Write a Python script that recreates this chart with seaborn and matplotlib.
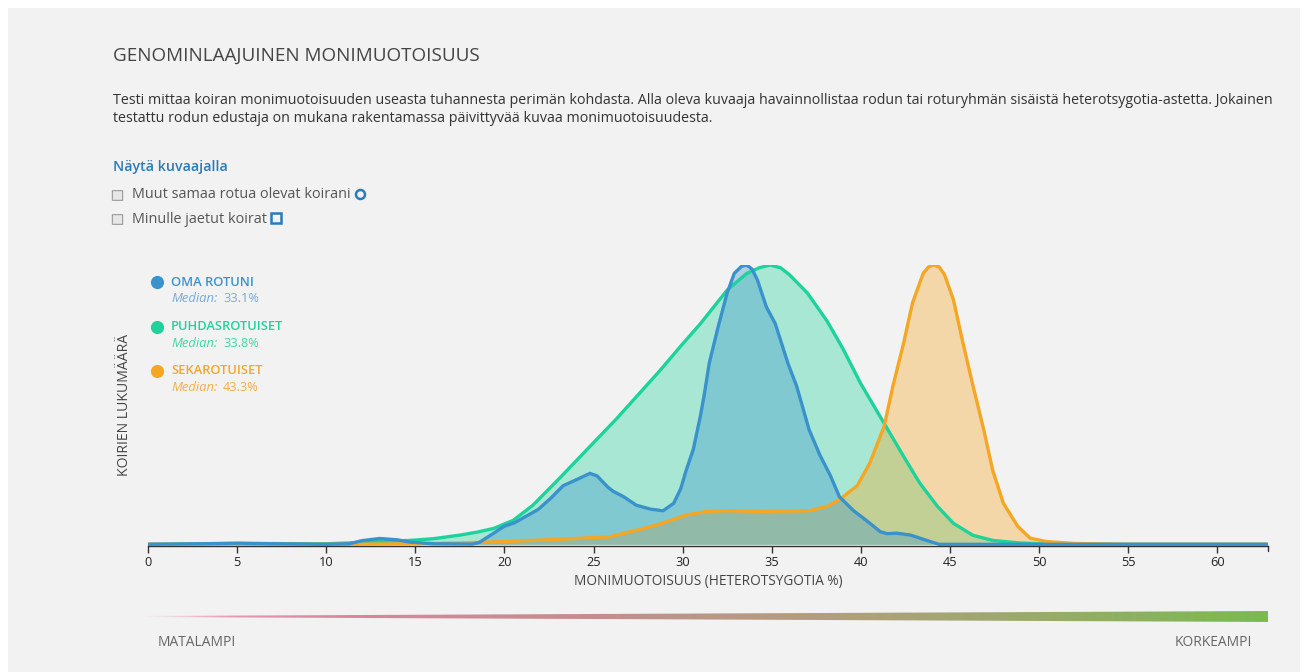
import numpy as np
import matplotlib
matplotlib.use('Agg')
import matplotlib.pyplot as plt
import seaborn as sns
from matplotlib.patches import Rectangle, FancyBboxPatch, Polygon
from matplotlib.lines import Line2D
from matplotlib.colors import LinearSegmentedColormap

# data (curve heights relative to each peak)
oma_x = [0, 3, 5, 7, 10, 11.3, 12, 13, 14, 14.7, 16, 18.2, 18.6, 19.4, 20.0, 20.6, 21.2, 21.9,
         22.6, 23.3, 24.1, 24.8, 25.2, 25.8, 26.1, 26.7, 27.4, 28.2, 28.9, 29.5, 29.9, 30.2,
         30.6, 31.0, 31.2, 31.5, 32.0, 32.5, 32.9, 33.3, 33.6, 33.9, 34.2, 34.7, 35.2, 35.9,
         36.4, 37.1, 37.7, 38.3, 38.8, 39.6, 40.3, 41.1, 41.5, 42.0, 42.8, 43.7, 44.4, 50, 55, 62.8]
oma_y = [0, 0.002, 0.004, 0.002, 0, 0.002, 0.013, 0.021, 0.016, 0.008, 0.002, 0.001, 0.007,
         0.04, 0.065, 0.078, 0.10, 0.125, 0.165, 0.21, 0.233, 0.254, 0.245, 0.205, 0.19, 0.17,
         0.14, 0.126, 0.12, 0.147, 0.2, 0.265, 0.34, 0.46, 0.53, 0.65, 0.78, 0.90, 0.97, 0.995,
         1.0, 0.985, 0.946, 0.85, 0.79, 0.65, 0.566, 0.41, 0.32, 0.245, 0.17, 0.12, 0.086,
         0.045, 0.038, 0.04, 0.033, 0.014, 0, 0, 0, 0]

puhdas_x = [0, 5, 10, 11.3, 13, 14.7, 16, 17.5, 18.5, 19.4, 20.5, 21.6, 23.1, 24.6, 26.3,
            27.5, 28.7, 29.9, 31.0, 32.5, 33.6, 34.3, 34.9, 35.5, 36.0, 37.0, 38.1, 39.0,
            40.0, 41.3, 42.4, 43.3, 44.3, 45.2, 46.3, 47.4, 48.9, 50, 55, 62.8]
puhdas_y = [0, 0.003, 0.002, 0.005, 0.01, 0.014, 0.02, 0.033, 0.044, 0.057, 0.086, 0.14,
            0.237, 0.337, 0.45, 0.535, 0.62, 0.71, 0.79, 0.91, 0.97, 0.99, 1.0, 0.99, 0.965,
            0.90, 0.80, 0.70, 0.575, 0.434, 0.315, 0.22, 0.136, 0.075, 0.032, 0.014, 0.005,
            0.002, 0, 0]

seka_x = [0, 10, 15, 17.5, 20, 23.1, 25.9, 27.2, 28.7, 30.2, 31.4, 32.5, 34.3, 36, 37.1,
          38.1, 38.8, 39.8, 40.5, 41.3, 41.8, 42.4, 42.9, 43.5, 43.8, 44.1, 44.4, 44.7, 45.2,
          45.7, 46.3, 46.9, 47.4, 48.0, 48.8, 49.5, 50.4, 52, 55, 62.8]
seka_y = [0, 0, 0.002, 0.005, 0.01, 0.018, 0.027, 0.047, 0.072, 0.105, 0.118, 0.12, 0.118,
          0.119, 0.12, 0.136, 0.16, 0.21, 0.29, 0.42, 0.566, 0.72, 0.864, 0.97, 0.993, 1.0,
          0.993, 0.965, 0.875, 0.73, 0.566, 0.41, 0.265, 0.147, 0.065, 0.022, 0.01, 0.003, 0, 0]

groups = ['OMA ROTUNI', 'PUHDASROTUISET', 'SEKAROTUISET']
medians = ['33.1%', '33.8%', '43.3%']
line_colors = ['#3a92cc', '#1dd39b', '#f5a623']
median_colors = ['#7aaad6', '#3fd8a6', '#f5ad4a']
x_ticks = [0, 5, 10, 15, 20, 25, 30, 35, 40, 45, 50, 55, 60]

title = 'GENOMINLAAJUINEN MONIMUOTOISUUS'
intro_1 = ('Testi mittaa koiran monimuotoisuuden useasta tuhannesta perimän kohdasta. Alla oleva '
           'kuvaaja havainnollistaa rodun tai roturyhmän sisäistä heterotsygotia-astetta. Jokainen')
intro_2 = 'testattu rodun edustaja on mukana rakentamassa päivittyvää kuvaa monimuotoisuudesta.'

sns.set_style('white')
plt.rcParams['font.family'] = ['Open Sans', 'DejaVu Sans']

W, H = 1303, 672
fig = plt.figure(figsize=(W / 100, H / 100), dpi=100)
fig.patch.set_facecolor('white')


def fx(px):
    return px / W


def fy(py):
    return 1 - py / H


# grey panel
fig.patches.append(Rectangle((fx(8), 0), fx(1300) - fx(8), fy(8), transform=fig.transFigure,
                             facecolor='#f2f2f2', edgecolor='none', zorder=-10))

# header texts
fig.text(fx(113), fy(56), title, fontsize=13.6, color='#444444', va='center')
fig.text(fx(113), fy(100), intro_1, fontsize=10.3, color='#333333', va='center')
fig.text(fx(113), fy(118), intro_2, fontsize=10.3, color='#333333', va='center')
fig.text(fx(113), fy(167), 'Näytä kuvaajalla', fontsize=10.3, color='#2b7bb9',
         fontweight='semibold', va='center')

checks = ['Muut samaa rotua olevat koirani', 'Minulle jaetut koirat']
check_marks = ['o', 's']
for i, (lab, mk) in enumerate(zip(checks, check_marks)):
    yy = 195 + i * 24
    fig.patches.append(FancyBboxPatch((fx(113), fy(yy + 5)), fx(9), 9 / H,
                                      boxstyle='round,pad=0.0005', transform=fig.transFigure,
                                      facecolor='#e6e6e6', edgecolor='#9a9a9a', lw=0.8))
    t = fig.text(fx(132), fy(yy), lab, fontsize=10.4, color='#555555', va='center')
    fig.canvas.draw()
    bb = t.get_window_extent()
    fig.add_artist(Line2D([(bb.x1 + 9) / W], [fy(yy - 1)], marker=mk, ms=6.5, mfc='none',
                          mec='#2b7bb9', mew=1.8, transform=fig.transFigure))

# main chart
ax = fig.add_axes([fx(148), fy(546), fx(1268) - fx(148), (546 - 265) / H])
ax.patch.set_alpha(0)

series = [(oma_x, oma_y), (puhdas_x, puhdas_y), (seka_x, seka_y)]
for (xs, ys), c, z in zip(series, line_colors, [3, 1, 2]):
    ax.fill_between(xs, ys, color=c, alpha=0.35, lw=0, zorder=z)
for (xs, ys), c, z in zip(series, line_colors, [7, 5, 6]):
    sns.lineplot(x=xs, y=ys, ax=ax, color=c, lw=2.4, sort=False, zorder=z)

ax.set_xlim(0, 62.85)
ax.set_ylim(-0.006, 1.0)
ax.set_xticks(x_ticks)
ax.set_yticks([])
for s in ['left', 'top', 'right']:
    ax.spines[s].set_visible(False)
ax.spines['bottom'].set_color('#333333')
ax.spines['bottom'].set_linewidth(1)
ax.tick_params(axis='x', direction='out', length=5, width=1, color='#333333',
               labelsize=9.2, labelcolor='#222222', pad=2, bottom=True)
ax.set_xlabel('MONIMUOTOISUUS (HETEROTSYGOTIA %)', fontsize=9.8, color='#444444', labelpad=4)
ax.set_ylabel('')
ax.add_line(Line2D([62.85, 62.85], [-0.006, -0.024], color='#333333', lw=1, clip_on=False))

fig.text(fx(125), fy(405), 'KOIRIEN LUKUMÄÄRÄ', rotation=90, fontsize=10.1,
         color='#444444', va='center', ha='center')

# legend
for i, (g, m, c, mc) in enumerate(zip(groups, medians, line_colors, median_colors)):
    yy = 282 + i * 44.5
    fig.add_artist(Line2D([fx(157)], [fy(yy)], marker='o', ms=9.5, color=c, mec='none',
                          transform=fig.transFigure))
    fig.text(fx(171), fy(yy), g, fontsize=9.3, color=c, fontweight='semibold', va='center')
    fig.text(fx(171.5), fy(yy + 17), 'Median:', fontsize=9.4, color=mc, style='italic', va='center')
    fig.text(fx(223), fy(yy + 17), m, fontsize=9.2, color=mc, va='center')

# gradient wedge
gax = fig.add_axes([fx(141), fy(623), fx(1268) - fx(141), (623 - 610) / H])
gax.set_xlim(0, 1)
gax.set_ylim(0, 1)
gax.axis('off')
grad_cmap = LinearSegmentedColormap.from_list('grad', [
    (0.0, (0.93, 0.55, 0.66, 0.0)),
    (0.08, (0.89, 0.50, 0.63, 0.8)),
    (0.18, (0.86, 0.52, 0.62, 1.0)),
    (0.40, (0.76, 0.56, 0.55, 1.0)),
    (0.60, (0.70, 0.62, 0.50, 1.0)),
    (0.80, (0.60, 0.67, 0.42, 1.0)),
    (1.0, (0.48, 0.73, 0.31, 1.0)),
])
grad = np.linspace(0, 1, 512).reshape(1, -1)
im = gax.imshow(grad, cmap=grad_cmap, aspect='auto', extent=[0, 1, 0, 1])
wedge = Polygon([(0, 0.54), (1, 0.92), (1, 0.08), (0, 0.46)], closed=True,
                transform=gax.transData, facecolor='none', edgecolor='none')
gax.add_patch(wedge)
im.set_clip_path(wedge)

fig.text(fx(158), fy(643), 'MATALAMPI', fontsize=9.9, color='#666666', va='center')
fig.text(fx(1252), fy(643), 'KORKEAMPI', fontsize=9.9, color='#666666', va='center', ha='right')

plt.savefig('out.png', dpi=100, facecolor=fig.get_facecolor())
